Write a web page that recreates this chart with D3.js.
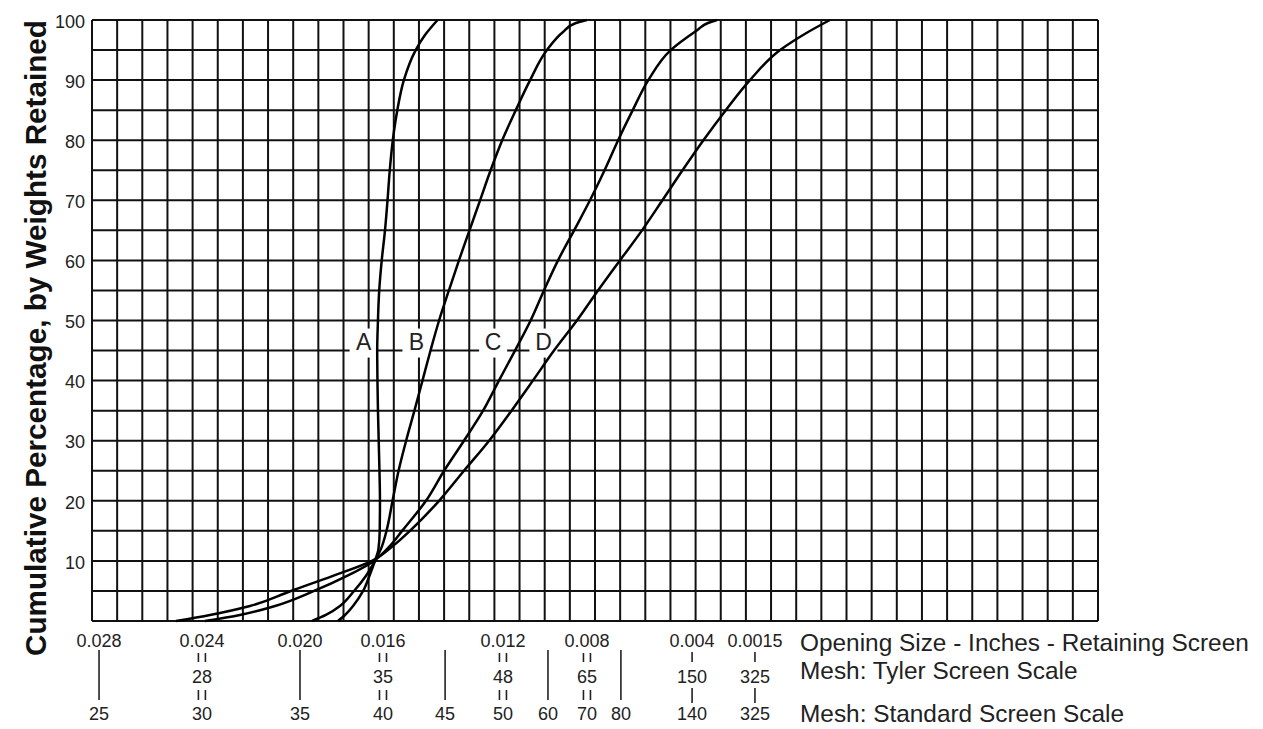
<!DOCTYPE html>
<html>
<head>
<meta charset="utf-8">
<script src="https://cdn.jsdelivr.net/npm/d3@7"></script>
<style>
  body { margin: 0; background: #fff; }
  text { font-family: "Liberation Sans", Arial, Helvetica, sans-serif; }
</style>
</head>
<body>
<script>
// percent ticks on the left
var pctTicks = [10, 20, 30, 40, 50, 60, 70, 80, 90, 100];
var gridCols = 40;
var gridStep = 5;

// bottom scales, position given in grid columns
var scalePos = [0.28, 4.37, 8.27, 11.57, 14.04, 16.34, 18.13, 19.68, 21.03, 23.86, 26.36];
var openingSizes = ["0.028", "0.024", "0.020", "0.016", "", "0.012", "", "0.008", "", "0.004", "0.0015"];
var tylerMesh = ["", "28", "", "35", "", "48", "", "65", "", "150", "325"];
var standardMesh = ["25", "30", "35", "40", "45", "50", "60", "70", "80", "140", "325"];
var meshLinks = ["long", "double", "long", "double", "long", "double", "long", "double", "long", "single", "single"];

var scaleTitles = ["Opening Size - Inches - Retaining Screen", "Mesh: Tyler Screen Scale", "Mesh: Standard Screen Scale"];

// curves: [grid column, cumulative %]
var curveA = [[9.78, 0], [10.06, 1], [10.38, 2.5], [10.78, 5], [11.03, 7.5], [11.25, 10], [11.39, 12], [11.44, 15],
  [11.45, 20], [11.43, 25], [11.40, 30], [11.37, 35], [11.35, 40], [11.34, 45], [11.37, 50], [11.42, 55], [11.52, 60],
  [11.65, 65], [11.75, 70], [11.84, 75], [11.96, 80], [12.14, 85], [12.40, 90], [12.87, 95], [13.24, 97.5], [13.74, 100]];
var curveB = [[8.75, 0], [9.30, 1], [9.86, 2.5], [10.42, 5], [10.89, 7.5], [11.25, 10], [11.49, 12], [11.71, 15],
  [11.95, 20], [12.19, 25], [12.49, 30], [12.82, 35], [13.14, 40], [13.46, 45], [13.80, 50], [14.19, 55], [14.59, 60],
  [15.01, 65], [15.43, 70], [15.85, 75], [16.31, 80], [16.85, 85], [17.42, 90], [18.09, 95], [18.73, 98], [19.24, 99.5], [19.68, 100]];
var curveC = [[4.49, 0], [5.88, 1], [7.28, 2.5], [8.83, 5], [10.14, 7.5], [11.21, 10], [11.85, 12.5], [12.33, 15],
  [13.28, 20], [14.00, 25], [14.79, 30], [15.55, 35], [16.18, 40], [16.82, 45], [17.44, 50], [17.97, 55], [18.53, 60],
  [19.17, 65], [19.80, 70], [20.38, 75], [20.92, 80], [21.50, 85], [22.12, 90], [23.01, 95], [24.06, 98.3], [24.49, 99.5], [24.85, 100]];
var curveD = [[3.34, 0], [4.69, 1], [6.28, 2.5], [7.91, 5], [9.58, 7.5], [11.13, 10], [11.97, 12.5], [12.64, 15],
  [13.80, 20], [14.79, 25], [15.79, 30], [16.68, 35], [17.53, 40], [18.37, 45], [19.28, 50], [20.12, 55], [20.99, 60],
  [21.87, 65], [22.68, 70], [23.48, 75], [24.31, 80], [25.20, 85], [26.16, 90], [27.36, 95], [28.39, 97.8], [29.34, 100]];

var curveNames = ["A", "B", "C", "D"];
var curveLabelPos = [10.8, 12.9, 15.95, 17.95];
var curveLabelPct = 45;

var width = 1263,
    height = 729;

var svg = d3.select("body").append("svg")
    .attr("width", width)
    .attr("height", height)

var x = d3.scaleLinear().domain([0, gridCols]).range([92, 1098]);
var y = d3.scaleLinear().domain([0, 100]).range([621, 20]);

/* grid */
var grid = svg.append("g").attr("stroke", "#111").attr("stroke-width", 2);
grid.selectAll("line.v")
    .data(d3.range(0, gridCols + 1))
    .enter().append("line")
    .attr("x1", function (d) { return x(d) })
    .attr("x2", function (d) { return x(d) })
    .attr("y1", y(0))
    .attr("y2", y(100))
grid.selectAll("line.h")
    .data(d3.range(0, 101, gridStep))
    .enter().append("line")
    .attr("x1", x(0))
    .attr("x2", x(gridCols))
    .attr("y1", function (d) { return y(d) })
    .attr("y2", function (d) { return y(d) })

/* y axis labels */
var yAxis = svg.append("g")
    .attr("transform", "translate(" + x(0) + ",0)")
    .call(d3.axisLeft(y).tickValues(pctTicks).tickSize(0).tickPadding(7))
yAxis.select(".domain").remove()
yAxis.selectAll("text")
    .attr("font-size", 18)
    .attr("font-family", "Liberation Sans, Arial, sans-serif")
    .attr("fill", "#222")
    .attr("dy", "0.4em")

svg.append("text")
    .attr("transform", "translate(46," + 338 + ") rotate(-90)")
    .attr("text-anchor", "middle")
    .attr("font-size", 30)
    .attr("font-weight", "bold")
    .attr("fill", "#111")
    .attr("textLength", 636)
    .attr("lengthAdjust", "spacingAndGlyphs")
    .text("Cumulative Percentage, by Weights Retained")

/* curve labels sit on the 45% line, with a white gap */
var labels = svg.append("g")
labels.selectAll("rect")
    .data(curveNames)
    .enter().append("rect")
    .attr("x", function (d, i) { return x(curveLabelPos[i]) - 14 })
    .attr("y", y(curveLabelPct) - 22)
    .attr("width", 28)
    .attr("height", 29)
    .attr("fill", "#fff")
labels.selectAll("text")
    .data(curveNames)
    .enter().append("text")
    .attr("x", function (d, i) { return x(curveLabelPos[i]) })
    .attr("y", y(curveLabelPct) - 1)
    .attr("text-anchor", "middle")
    .attr("font-size", 23)
    .attr("fill", "#222")
    .text(function (d) { return d })

/* curves */
var line = d3.line()
    .x(function (d) { return x(d[0]) })
    .y(function (d) { return y(d[1]) })
    .curve(d3.curveMonotoneY)

svg.selectAll("path.curve")
    .data([curveA, curveB, curveC, curveD])
    .enter().append("path")
    .attr("class", "curve")
    .attr("d", line)
    .attr("fill", "none")
    .attr("stroke", "#000")
    .attr("stroke-width", 2.5)

/* bottom scales */
var rowY = [647, 683, 720];
var cols = svg.append("g").attr("font-size", 18).attr("fill", "#222").attr("text-anchor", "middle")
var rows = [openingSizes, tylerMesh, standardMesh];
rows.forEach(function (row, r) {
  cols.selectAll("text.r" + r)
      .data(row)
      .enter().append("text")
      .attr("x", function (d, i) { return x(scalePos[i]) })
      .attr("y", rowY[r])
      .text(function (d) { return d })
})

var links = svg.append("g").attr("stroke", "#222").attr("stroke-width", 1.6)
meshLinks.forEach(function (kind, i) {
  var cx = x(scalePos[i]);
  if (kind == "long") {
    links.append("line").attr("x1", cx).attr("x2", cx).attr("y1", 650).attr("y2", 700)
  } else if (kind == "double") {
    [[653, 662], [690, 700]].forEach(function (seg) {
      [-3.5, 3.5].forEach(function (off) {
        links.append("line").attr("x1", cx + off).attr("x2", cx + off).attr("y1", seg[0]).attr("y2", seg[1])
      })
    })
  } else {
    links.append("line").attr("x1", cx).attr("x2", cx).attr("y1", 652).attr("y2", 662)
    links.append("line").attr("x1", cx).attr("x2", cx).attr("y1", 688).attr("y2", 703)
  }
})

svg.selectAll("text.title")
    .data(scaleTitles)
    .enter().append("text")
    .attr("x", 800)
    .attr("y", function (d, i) { return [651, 679, 722][i] })
    .attr("font-size", 24.4)
    .attr("fill", "#222")
    .text(function (d) { return d })
</script>
</body>
</html>
